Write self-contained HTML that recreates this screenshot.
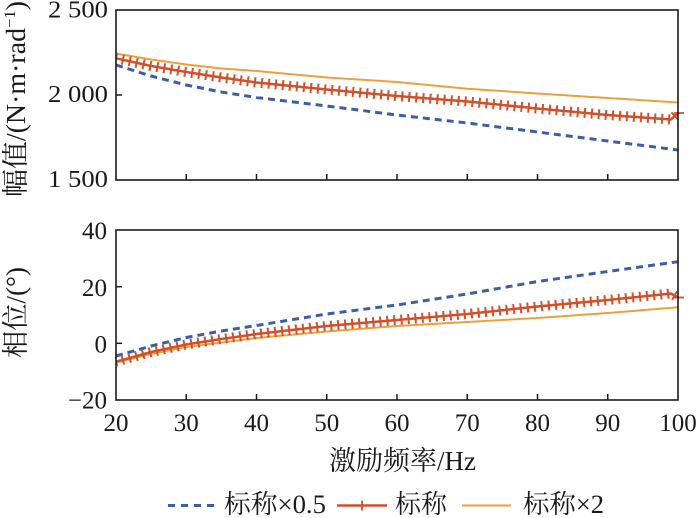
<!DOCTYPE html>
<html>
<head>
<meta charset="utf-8">
<style>
  html, body { margin: 0; padding: 0; background: #ffffff; }
  svg { display: block; }
  .num { font-family: "Liberation Serif", "Noto Serif CJK SC", serif; fill: #1a1a1a; }
  .cjk { font-family: "Liberation Serif", "Noto Serif CJK SC", serif; fill: #1a1a1a; }
</style>
</head>
<body>
<svg width="700" height="518" viewBox="0 0 700 518" xmlns="http://www.w3.org/2000/svg">
  <rect x="0" y="0" width="700" height="518" fill="#ffffff"/>

  <!-- ========== TOP PLOT ========== -->
  <polyline fill="none" stroke="#3a5fa3" stroke-width="3" stroke-dasharray="7 5"
    points="116,65 151.1,76 186.25,85 221.4,92 256.5,97.5 326.75,106 397,115 467.25,123 537.5,132 607.75,141 678,150"/>
  <polyline fill="none" stroke="#e8a23c" stroke-width="2"
    points="116,53.5 151.1,59.5 186.25,64.5 221.4,68.5 256.5,71 326.75,77.5 397,82 467.25,88.7 537.5,93.5 607.75,98 678,102.5"/>
  <polyline fill="none" stroke="#d0502b" stroke-width="2.5"
    points="116,58.3 151.1,66 186.25,72 221.4,77.5 256.5,82.5 326.75,89.5 397,96 467.25,101.5 537.5,108.5 607.75,115 671,119.5 678,113"/>
  <polyline fill="none" stroke="#d0502b" stroke-width="10" stroke-dasharray="2 5.05" stroke-dashoffset="1"
    points="116,58.3 151.1,66 186.25,72 221.4,77.5 256.5,82.5 326.75,89.5 397,96 467.25,101.5 537.5,108.5 607.75,115 671,119.5 678,113"/>
  <line x1="674" y1="113" x2="684" y2="113" stroke="#d0502b" stroke-width="1.8"/>

  <rect x="116" y="10" width="562" height="170" fill="none" stroke="#1a1a1a" stroke-width="1.6"/>
  <g stroke="#1a1a1a" stroke-width="1.5">
    <line x1="186.25" y1="174" x2="186.25" y2="180"/>
    <line x1="256.5" y1="174" x2="256.5" y2="180"/>
    <line x1="326.75" y1="174" x2="326.75" y2="180"/>
    <line x1="397" y1="174" x2="397" y2="180"/>
    <line x1="467.25" y1="174" x2="467.25" y2="180"/>
    <line x1="537.5" y1="174" x2="537.5" y2="180"/>
    <line x1="607.75" y1="174" x2="607.75" y2="180"/>
    <line x1="116" y1="95" x2="122" y2="95"/>
  </g>
  <g class="num" font-size="24" text-anchor="end">
    <text x="108" y="17.5" textLength="60" lengthAdjust="spacingAndGlyphs">2 500</text>
    <text x="108" y="102" textLength="60" lengthAdjust="spacingAndGlyphs">2 000</text>
    <text x="108" y="187" textLength="60" lengthAdjust="spacingAndGlyphs">1 500</text>
  </g>
  <text class="cjk" font-size="27" transform="translate(25,197) rotate(-90)" textLength="196" lengthAdjust="spacingAndGlyphs">幅值/(N·m·rad<tspan font-size="16" dy="-10">−1</tspan><tspan dy="10">)</tspan></text>

  <!-- ========== BOTTOM PLOT ========== -->
  <polyline fill="none" stroke="#3a5fa3" stroke-width="3" stroke-dasharray="7 5"
    points="116,356 151.1,346 186.25,337.5 221.4,331 256.5,325.5 326.75,314 397,305 467.25,294 537.5,281.5 607.75,271.5 678,261.7"/>
  <polyline fill="none" stroke="#e8a23c" stroke-width="2"
    points="116,362.5 151.1,354 186.25,347 221.4,342.5 256.5,338 326.75,331.5 397,326 467.25,322 537.5,318 607.75,313 678,307.3"/>
  <polyline fill="none" stroke="#d0502b" stroke-width="2.5"
    points="116,361.7 151.1,352 186.25,344.5 221.4,339 256.5,334 326.75,326 397,320 467.25,314 537.5,306.5 607.75,300 671,293.5 678,297.5"/>
  <polyline fill="none" stroke="#d0502b" stroke-width="10" stroke-dasharray="2 5.05" stroke-dashoffset="1"
    points="116,361.7 151.1,352 186.25,344.5 221.4,339 256.5,334 326.75,326 397,320 467.25,314 537.5,306.5 607.75,300 671,293.5 678,297.5"/>
  <line x1="674" y1="297.5" x2="684" y2="297.5" stroke="#d0502b" stroke-width="1.8"/>

  <rect x="116" y="230" width="562" height="170" fill="none" stroke="#1a1a1a" stroke-width="1.6"/>
  <g stroke="#1a1a1a" stroke-width="1.5">
    <line x1="186.25" y1="394" x2="186.25" y2="400"/>
    <line x1="256.5" y1="394" x2="256.5" y2="400"/>
    <line x1="326.75" y1="394" x2="326.75" y2="400"/>
    <line x1="397" y1="394" x2="397" y2="400"/>
    <line x1="467.25" y1="394" x2="467.25" y2="400"/>
    <line x1="537.5" y1="394" x2="537.5" y2="400"/>
    <line x1="607.75" y1="394" x2="607.75" y2="400"/>
    <line x1="116" y1="286.7" x2="122" y2="286.7"/>
    <line x1="116" y1="343.3" x2="122" y2="343.3"/>
  </g>
  <g class="num" font-size="25" text-anchor="end">
    <text x="107" y="239">40</text>
    <text x="107" y="296">20</text>
    <text x="107" y="352.5">0</text>
    <text x="107" y="408.5">−20</text>
  </g>
  <text class="cjk" font-size="27" transform="translate(25,358) rotate(-90)" textLength="91" lengthAdjust="spacingAndGlyphs">相位/(°)</text>

  <g class="num" font-size="25" text-anchor="middle">
    <text x="116" y="431">20</text>
    <text x="186.25" y="431">30</text>
    <text x="256.5" y="431">40</text>
    <text x="326.75" y="431">50</text>
    <text x="397" y="431">60</text>
    <text x="467.25" y="431">70</text>
    <text x="537.5" y="431">80</text>
    <text x="607.75" y="431">90</text>
    <text x="678" y="431">100</text>
  </g>
  <text class="cjk" font-size="27" x="329" y="470" textLength="147" lengthAdjust="spacingAndGlyphs">激励频率/Hz</text>

  <!-- ========== LEGEND ========== -->
  <line x1="168" y1="505.5" x2="214" y2="505.5" stroke="#3a5fa3" stroke-width="3" stroke-dasharray="7 6"/>
  <text class="cjk" font-size="26" x="224" y="513" textLength="102" lengthAdjust="spacingAndGlyphs">标称×0.5</text>
  <line x1="337" y1="505.5" x2="387" y2="505.5" stroke="#d0502b" stroke-width="2.5"/>
  <line x1="362" y1="500.5" x2="362" y2="510.5" stroke="#d0502b" stroke-width="1.8"/>
  <text class="cjk" font-size="26" x="395" y="513" textLength="52" lengthAdjust="spacingAndGlyphs">标称</text>
  <line x1="462" y1="505.5" x2="511" y2="505.5" stroke="#e8a23c" stroke-width="2"/>
  <text class="cjk" font-size="26" x="523" y="513" textLength="81" lengthAdjust="spacingAndGlyphs">标称×2</text>
</svg>
</body>
</html>
